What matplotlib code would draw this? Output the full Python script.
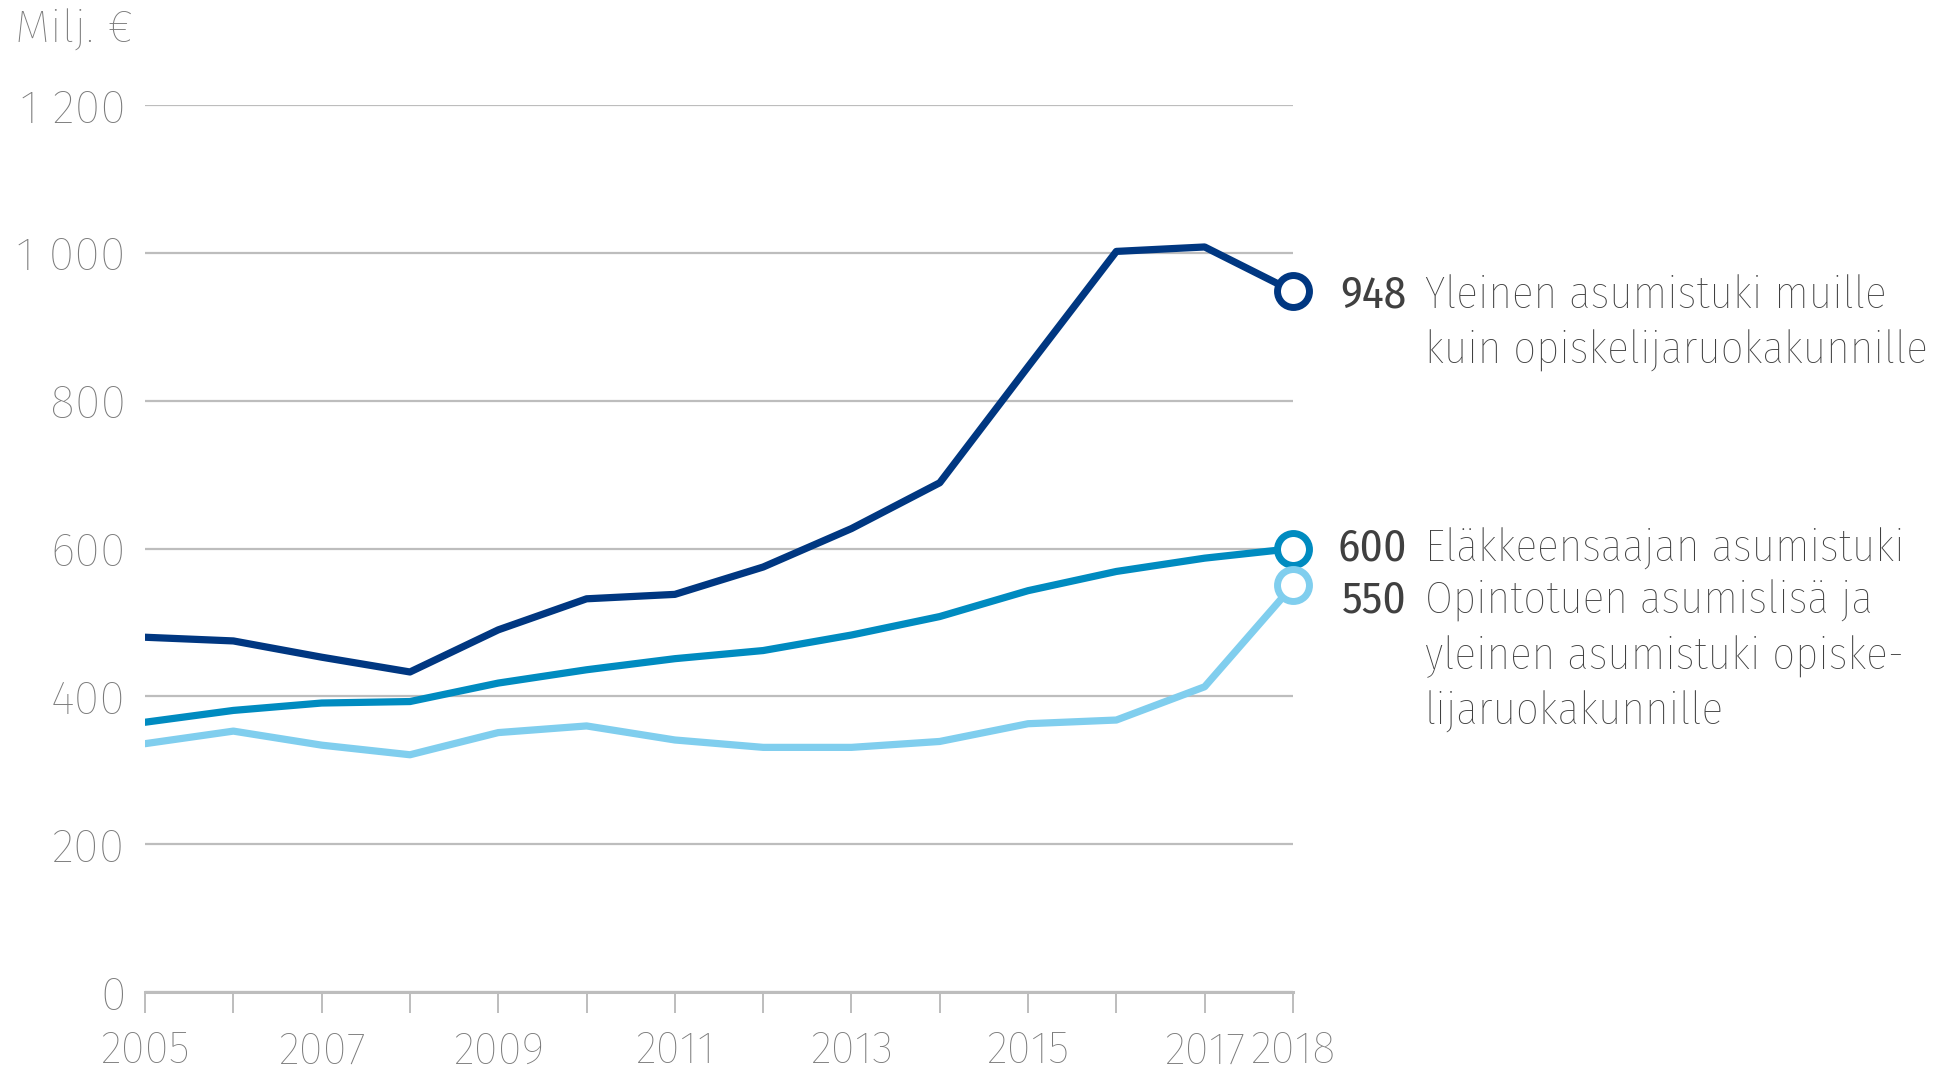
import numpy as np
import matplotlib.pyplot as plt
import matplotlib.transforms as mtransforms

years = list(range(2005, 2019))
yleinen = [480, 475, 453, 433, 490, 532, 538, 575, 627, 689, 846, 1002, 1008, 948]
elake = [365, 381, 391, 393, 418, 436, 451, 462, 483, 508, 543, 569, 587, 600]
opinto = [336, 353, 334, 321, 351, 360, 341, 331, 331, 339, 363, 368, 413, 550]

names = [['Yleinen asumistuki muille', 'kuin opiskelijaruokakunnille'],
         ['Eläkkeensaajan asumistuki'],
         ['Opintotuen asumislisä ja', 'yleinen asumistuki opiske-', 'lijaruokakunnille']]
colors = ['#003781', '#008BC0', '#80CEEE']
label_dy = [-3, 0, -11]  # points, nudges to keep labels apart

yticks = [0, 200, 400, 600, 800, 1000, 1200]
ytick_labels = ['0', '200', '400', '600', '800', '1 000', '1 200']
xtick_years = [2005, 2007, 2009, 2011, 2013, 2015, 2017, 2018]

plt.rcParams['font.family'] = ['Fira Sans Condensed', 'DejaVu Sans']
tick_font = ['Fira Sans', 'DejaVu Sans']

fig = plt.figure(figsize=(19.37, 10.72), dpi=100)
ax = fig.add_axes([0.0749, 0.0746, 0.5926, 0.8274])

series = [yleinen, elake, opinto]
for vals, c in zip(series, colors):
    ax.plot(years, vals, color=c, lw=5.2, solid_capstyle='round', zorder=3)
    ax.plot(years[-1], vals[-1], 'o', ms=23, mfc='white', mec=c, mew=5, zorder=4, clip_on=False)

line_step = 40  # points between label lines
for vals, lines, dy in zip(series, names, label_dy):
    ax.annotate(str(vals[-1]), xy=(years[-1], vals[-1]), xytext=(82, dy),
                textcoords='offset points', ha='right', va='center',
                fontsize=32.5, color='#404040', annotation_clip=False)
    for i, line in enumerate(lines):
        ax.annotate(line, xy=(years[-1], vals[-1]), xytext=(95, dy - i * line_step),
                    textcoords='offset points', ha='left', va='center', fontweight='light',
                    fontsize=32.5, color='#404040', annotation_clip=False)

ax.set_xlim(2005, 2018)
ax.set_ylim(0, 1200)
ax.set_yticks(yticks)
ax.set_yticklabels(ytick_labels)
ax.set_xticks(years, minor=True)
ax.set_xticks(xtick_years)
ax.set_xticklabels([str(y) for y in xtick_years])
for lbl in ax.get_xticklabels() + ax.get_yticklabels():
    lbl.set_fontweight('light')
    lbl.set_family(tick_font)
# nudge the last year label right so it does not crowd 2017
last = ax.get_xticklabels()[-1]
last.set_transform(last.get_transform() + mtransforms.ScaledTranslation(0.2, 0, fig.dpi_scale_trans))

ax.grid(axis='y', color='#bdbdbd', lw=1.6)
ax.set_axisbelow(True)
for s in ['top', 'right', 'left']:
    ax.spines[s].set_visible(False)
ax.spines['bottom'].set_color('#bdbdbd')
ax.spines['bottom'].set_linewidth(2.2)

ax.tick_params(axis='y', length=0, pad=14, labelsize=34, labelcolor='#7a7a7a')
ax.tick_params(axis='x', which='both', length=15, width=1.4, color='#bdbdbd',
               direction='out', pad=12, labelsize=32, labelcolor='#7a7a7a')

fig.text(0.008, 0.972, 'Milj. €', fontsize=33, fontweight='light', family=tick_font,
         color='#7a7a7a', ha='left', va='center')

fig.savefig('out.png', dpi=100)
